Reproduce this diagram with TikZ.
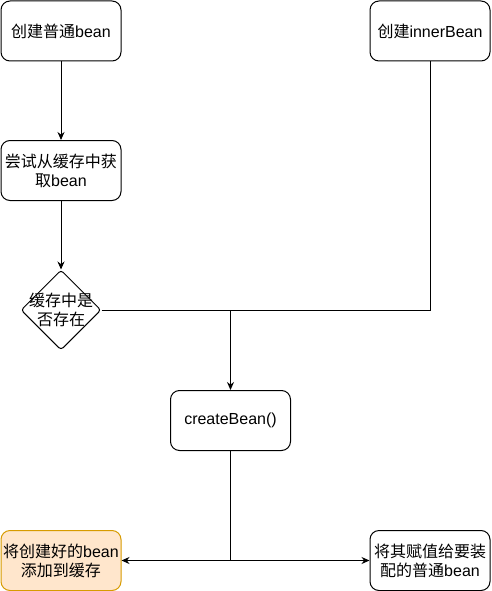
\documentclass[tikz,border=0pt]{standalone}
\usepackage{fontspec}
\setmainfont{Liberation Sans}
\newfontfamily\cjk{Noto Sans CJK SC}
\newcommand{\zh}[1]{{\cjk #1}}
\usetikzlibrary{arrows.meta,shapes.geometric}
\definecolor{orfill}{HTML}{FFE6CC}
\definecolor{ordraw}{HTML}{D79B00}
\tikzset{
  box/.style={draw=black, line width=1pt, rounded corners=9pt, minimum width=120pt, minimum height=60pt, inner sep=0pt, align=center, font=\fontsize{16}{19}\selectfont},
  diam/.style={draw=black, line width=1pt, shape=diamond, rounded corners=3pt, minimum width=80pt, minimum height=80pt, inner sep=0pt},
  conn/.style={draw=black, line width=1pt},
  arr/.style={conn, -{Stealth[length=8pt,width=7pt]}},
}
\begin{document}
\begin{tikzpicture}[x=1pt,y=-1pt]
\useasboundingbox (0,0) rectangle (491,591);
\node[box] (n1) at (61,31) {\zh{创建普通}bean};
\node[box] (inner) at (430,31) {\zh{创建}innerBean};
\node[box] (n2) at (61,170.5) {\zh{尝试从缓存中获}\\\zh{取}bean};
\node[diam, label={[align=center, font=\fontsize{16}{19}\selectfont]center:\zh{缓存中是}\\\zh{否存在}}] (d) at (61,310) {};
\node[box] (cb) at (230.5,420.5) {createBean()};
\node[box, fill=orfill, draw=ordraw] (add) at (61,560.5) {\zh{将创建好的}bean\\\zh{添加到缓存}};
\node[box] (assign) at (430,560.5) {\zh{将其赋值给要装}\\\zh{配的普通}bean};
\coordinate (j1) at (cb.north |- d.east);
\coordinate (j2) at (cb.south |- add.east);
\coordinate (j3) at (inner.south |- d.east);
\draw[arr] (n1) -- (n2);
\draw[arr] (n2) -- (d);
\draw[conn] (d.east) -- (j3) -- (inner.south);
\draw[arr] (j1) -- (cb.north);
\draw[conn] (cb.south) -- (j2);
\draw[arr] (j2) -- (add.east);
\draw[arr] (j2) -- (assign.west);
\end{tikzpicture}
\end{document}
